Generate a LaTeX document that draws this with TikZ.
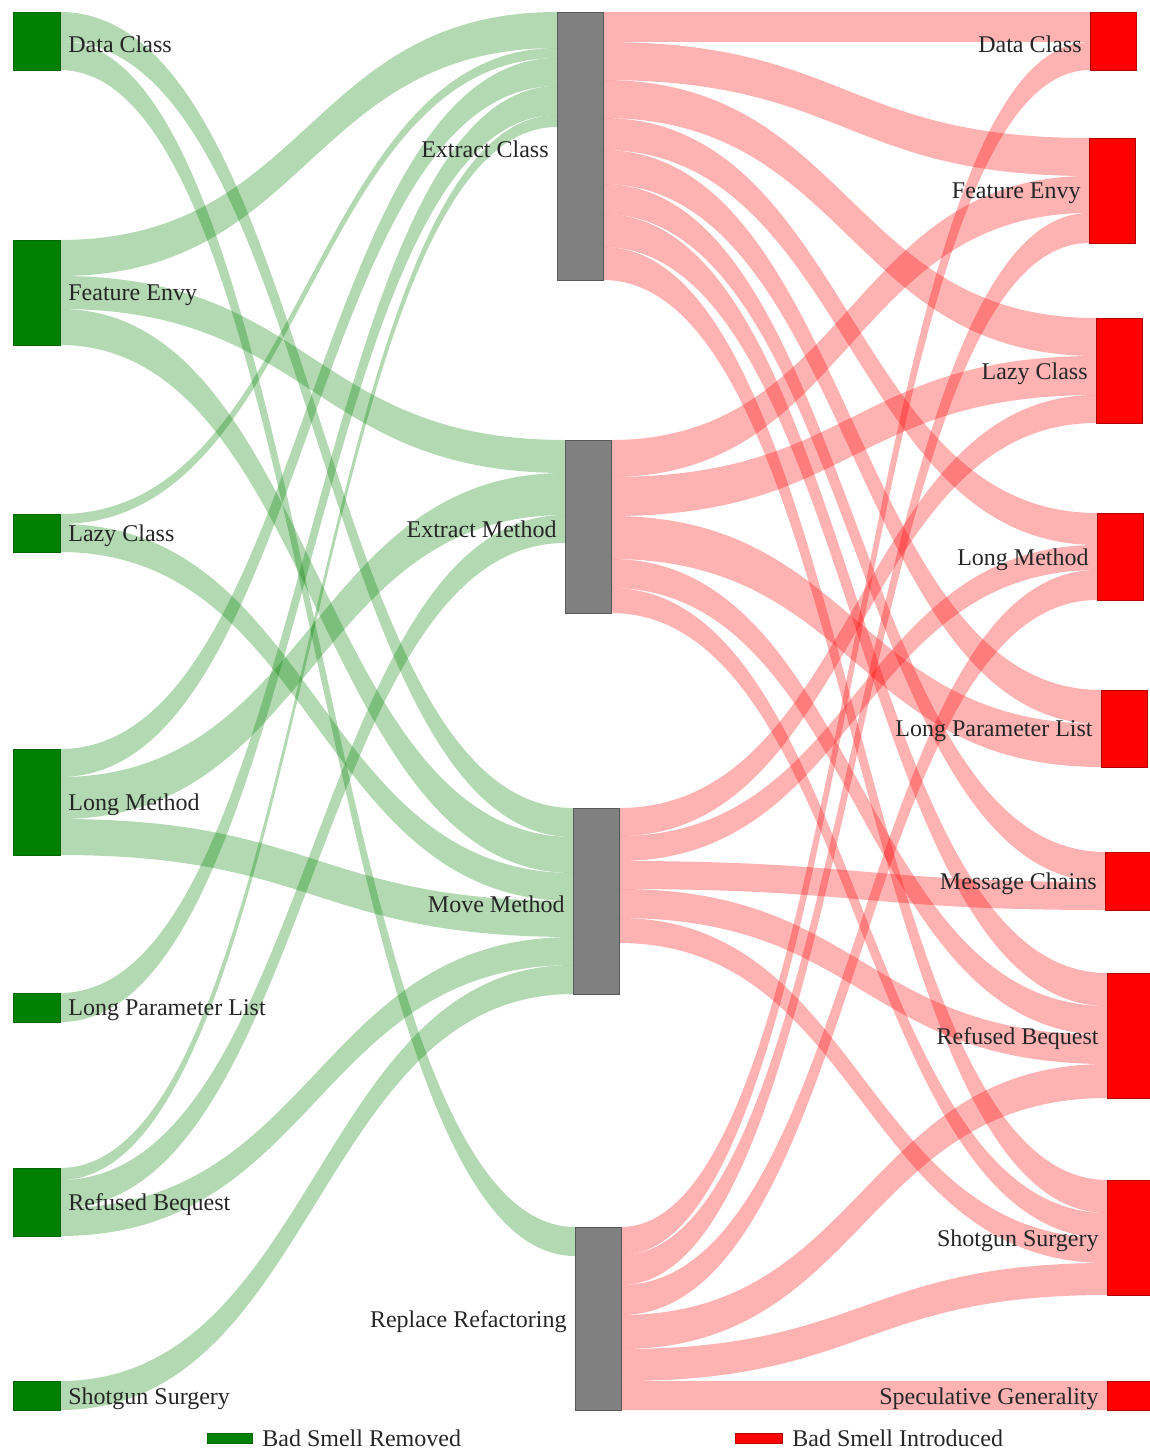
\documentclass[tikz,border=0pt]{standalone}
\usepackage{fontspec}
\setmainfont{Liberation Serif}
\usetikzlibrary{calc, positioning}
\pgfdeclarelayer{background}
\pgfsetlayers{background,main}
\definecolor{smellgreen}{RGB}{0,128,0}
\definecolor{smellred}{RGB}{255,0,0}

% one box of the diagram: name, x, y of top, height (px), style
\newcommand{\smellnode}[5]{%
  \pgfmathsetmacro{\boxh}{#4*0.5}%
  \node[#5, minimum height=\boxh pt, anchor=north west] (#1) at (#2,#3) {};}

% one band: style, source, offset at source, target, offset at target, width (px)
\newcommand{\smellflow}[6]{%
  \coordinate (s1) at ($(#2.north east)+(0,#3)$);
  \coordinate (s2) at ($(#2.north east)+(0,#3+#6)$);
  \coordinate (t1) at ($(#4.north west)+(0,#5)$);
  \coordinate (t2) at ($(#4.north west)+(0,#5+#6)$);
  \coordinate (m) at ($(s1)!.5!(t1)$);
  \fill[#1] (s1) .. controls (m |- s1) and (m |- t1) .. (t1) -- (t2)
    .. controls (m |- t2) and (m |- s2) .. (s2) -- cycle;}

\begin{document}
\begin{tikzpicture}[x=0.5pt, y=-0.5pt,
  label distance=4pt,
  lbl/.style={font=\fontsize{12}{14}\selectfont, text=black!85, inner sep=0, yshift=-1.5pt},
  removed/.style={draw=smellgreen!80!black, fill=smellgreen, minimum width=23.5pt, inner sep=0, outer sep=0},
  refac/.style={draw=black!65, fill=black!50, minimum width=23pt, inner sep=0, outer sep=0},
  introduced/.style={draw=smellred!70!black, fill=smellred, minimum width=23pt, inner sep=0, outer sep=0},
  gflow/.style={fill=smellgreen, fill opacity=0.3},
  rflow/.style={fill=smellred, fill opacity=0.3}]
\useasboundingbox (0,0) rectangle (1150,1450);

% Smells removed
\smellnode{lDC}{13}{12}{58}{removed, label={[lbl]right:Data Class}}
\smellnode{lFE}{13}{240}{105}{removed, label={[lbl]right:Feature Envy}}
\smellnode{lLC}{13}{514}{38}{removed, label={[lbl]right:Lazy Class}}
\smellnode{lLM}{13}{749}{106}{removed, label={[lbl]right:Long Method}}
\smellnode{lLPL}{13}{993}{29}{removed, label={[lbl]right:Long Parameter List}}
\smellnode{lRB}{13}{1168}{68}{removed, label={[lbl]right:Refused Bequest}}
\smellnode{lSS}{13}{1381}{29}{removed, label={[lbl]right:Shotgun Surgery}}

% Refactorings
\smellnode{mEC}{557}{12}{268}{refac, label={[lbl]left:Extract Class}}
\smellnode{mEM}{565}{440}{173}{refac, label={[lbl]left:Extract Method}}
\smellnode{mMM}{573}{808}{186}{refac, label={[lbl]left:Move Method}}
\smellnode{mRR}{575}{1227}{183}{refac, label={[lbl]left:Replace Refactoring}}

% Smells introduced
\smellnode{rDC}{1090}{12}{58}{introduced, label={[lbl]left:Data Class}}
\smellnode{rFE}{1089}{138}{105}{introduced, label={[lbl]left:Feature Envy}}
\smellnode{rLC}{1096}{318}{105}{introduced, label={[lbl]left:Lazy Class}}
\smellnode{rLM}{1097}{513}{87}{introduced, label={[lbl]left:Long Method}}
\smellnode{rLPL}{1101}{690}{77}{introduced, label={[lbl]left:Long Parameter List}}
\smellnode{rMC}{1105}{852}{58}{introduced, label={[lbl]left:Message Chains}}
\smellnode{rRB}{1107}{973}{125}{introduced, label={[lbl]left:Refused Bequest}}
\smellnode{rSS}{1107}{1180}{115}{introduced, label={[lbl]left:Shotgun Surgery}}
\smellnode{rSG}{1107}{1381}{29}{introduced, label={[lbl]left:Speculative Generality}}

% Legend
\node[removed, minimum width=22.5pt, minimum height=5pt, anchor=north west,
  label={[lbl, yshift=1.5pt, label distance=5pt]right:Bad Smell Removed}] (keyRemoved) at (207,1433) {};
\node[introduced, minimum width=23.5pt, minimum height=5pt, anchor=north west,
  label={[lbl, yshift=1.5pt, label distance=5pt]right:Bad Smell Introduced}] (keyIntroduced) at (735,1433) {};

\begin{pgfonlayer}{background}
% removed -> refactoring
\smellflow{gflow}{lDC}{0}{mMM}{0}{29}
\smellflow{gflow}{lDC}{29}{mRR}{0}{29}
\smellflow{gflow}{lFE}{0}{mEC}{0}{36}
\smellflow{gflow}{lFE}{36}{mEM}{0}{33}
\smellflow{gflow}{lFE}{69}{mMM}{29}{36}
\smellflow{gflow}{lLC}{0}{mEC}{36}{10}
\smellflow{gflow}{lLC}{10}{mMM}{65}{28}
\smellflow{gflow}{lLM}{0}{mEC}{46}{28}
\smellflow{gflow}{lLM}{28}{mEM}{33}{42}
\smellflow{gflow}{lLM}{70}{mMM}{93}{36}
\smellflow{gflow}{lLPL}{0}{mEC}{74}{29}
\smellflow{gflow}{lRB}{0}{mEC}{103}{12}
\smellflow{gflow}{lRB}{12}{mEM}{75}{28}
\smellflow{gflow}{lRB}{40}{mMM}{129}{28}
\smellflow{gflow}{lSS}{0}{mMM}{157}{29}
% refactoring -> introduced
\smellflow{rflow}{mEC}{0}{rDC}{0}{30}
\smellflow{rflow}{mEC}{30}{rFE}{0}{38}
\smellflow{rflow}{mEC}{68}{rLC}{0}{38}
\smellflow{rflow}{mEC}{106}{rLM}{0}{32}
\smellflow{rflow}{mEC}{138}{rLPL}{0}{34}
\smellflow{rflow}{mEC}{172}{rMC}{0}{30}
\smellflow{rflow}{mEC}{202}{rRB}{0}{33}
\smellflow{rflow}{mEC}{235}{rSS}{0}{33}
\smellflow{rflow}{mEM}{0}{rFE}{38}{37}
\smellflow{rflow}{mEM}{37}{rLC}{38}{39}
\smellflow{rflow}{mEM}{76}{rLPL}{34}{43}
\smellflow{rflow}{mEM}{119}{rRB}{33}{29}
\smellflow{rflow}{mEM}{148}{rSS}{33}{25}
\smellflow{rflow}{mMM}{0}{rLC}{77}{28}
\smellflow{rflow}{mMM}{28}{rLM}{32}{25}
\smellflow{rflow}{mMM}{53}{rMC}{30}{28}
\smellflow{rflow}{mMM}{81}{rRB}{62}{29}
\smellflow{rflow}{mMM}{110}{rSS}{58}{25}
\smellflow{rflow}{mRR}{0}{rDC}{30}{28}
\smellflow{rflow}{mRR}{28}{rFE}{75}{30}
\smellflow{rflow}{mRR}{58}{rLM}{57}{30}
\smellflow{rflow}{mRR}{88}{rRB}{91}{34}
\smellflow{rflow}{mRR}{122}{rSS}{83}{32}
\smellflow{rflow}{mRR}{154}{rSG}{0}{29}
\end{pgfonlayer}
\end{tikzpicture}
\end{document}
